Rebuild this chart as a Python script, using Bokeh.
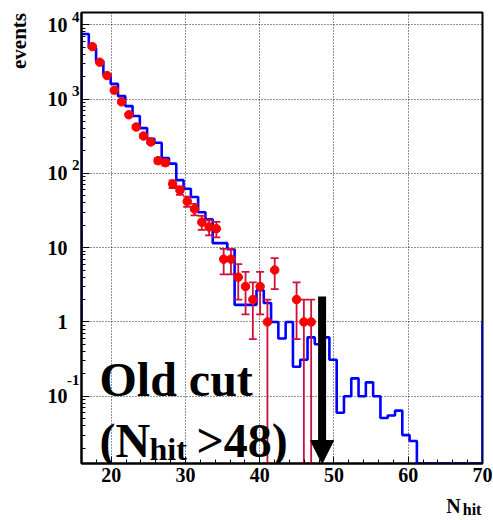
import numpy as np
from bokeh.plotting import figure
from bokeh.models import (Range1d, Label, Arrow, NormalHead, FixedTicker,
                          ColumnDataSource, LogAxis, LinearAxis)
from bokeh.embed import file_html
from bokeh.resources import INLINE

# ---------------- data ----------------
x_lo, x_hi, n_bins = 16.0, 70.0, 55          # histogram binning
y_lo, y_hi = 0.01245, 14600.0                 # axis ranges (log)
hist_base = 1.0                               # ROOT draws the outline ends at log-zero (=1)

# simulated (blue histogram), one value per bin
mc_counts = [7500, 4870, 3230, 2130, 1600, 1094, 803, 590, 406, 292,
             258, 161, 135, 81, 62, 48, 30, 24, 11.5, 11.5,
             9.5, 1.7, 1.7, 1.7, 2.67, 1.8, 1.0, 0.6, 1.0, 0.25,
             0.31, 0.62, 0.5, 0.62, 0.31, 0.06, 0.1, 0.174, 0.1, 0.154,
             0.1, 0.051, 0.055, 0.064, 0.030, 0.025, 0, 0, 0, 0,
             0, 0, 0, 0, 0]

# measured (red points): bin index and counts
data_bins = [1, 2, 3, 4, 5, 6, 7, 8, 9, 10, 11, 12, 13, 14, 15, 16, 17, 18,
             19, 20, 21, 22, 23, 24, 25, 26, 29, 30, 31]
data_counts = [5070, 3130, 2070, 1316, 916, 614, 420, 318, 264, 148, 139, 72,
               59, 42, 33, 22, 19, 18, 7, 7, 4, 3, 2, 3, 1, 5, 2, 1, 1]

x_ticks = [20, 30, 40, 50, 60, 70]
x_minor = list(range(16, 71, 2))
y_ticks = [0.1, 1, 10, 100, 1000, 10000]
y_base_labels = ["10", "1", "10", "10", "10", "10"]
y_exp_labels = ["-1", "", "", "2", "3", "4"]
y_exp_raise_px = [16, 0, 0, 8, 8, 8]          # exponent raised above its tick

x_title, x_title_sub = "N", "hit"
x_title_at, x_title_sub_at = 66.1, 68.6       # label centres along x
y_title = "events"
y_title_px_below_top = 28.5                   # centre of the rotated title

cut_x = 48.4          # arrow position
arrow_top = 2.2

# ---------------- derived ----------------
width = (x_hi - x_lo) / n_bins
edges = x_lo + width * np.arange(n_bins + 1)
mc = np.array(mc_counts, dtype=float)
mc_draw = np.where(mc > 0, mc, y_lo)
xs = [x_lo]
ys = [hist_base]
for j in range(n_bins):
    xs += [edges[j], edges[j + 1]]
    ys += [mc_draw[j], mc_draw[j]]
xs += [x_hi]
ys += [hist_base]

dc = np.array(data_counts, dtype=float)
dx = x_lo + width * (np.array(data_bins) + 0.5)
err = np.sqrt(dc)
lo = np.maximum(dc - err, y_lo)
hi = dc + err
src = ColumnDataSource(dict(x=dx, y=dc, lo=lo, hi=hi))

FONT = "Liberation Serif"
FRAME_H = 451
decade_px = FRAME_H / np.log10(y_hi / y_lo)

p = figure(width=493, height=520, y_axis_type="log",
           x_range=Range1d(x_lo, x_hi), y_range=Range1d(y_lo, y_hi),
           output_backend="svg", toolbar_location=None,
           min_border_left=81, min_border_right=11, min_border_top=12,
           min_border_bottom=57)
p.background_fill_color = "white"
p.border_fill_color = "white"
p.outline_line_color = "black"
p.outline_line_width = 2

# grids
for g in (p.xgrid, p.ygrid):
    g.grid_line_color = "black"
    g.grid_line_dash = "1 2"
    g.grid_line_width = 1
    g.grid_line_alpha = 0.85

# main axes (ticks)
xa = p.xaxis[0]
ya = p.yaxis[0]
xa.ticker = FixedTicker(ticks=x_ticks, minor_ticks=x_minor)
y_minor = [m * 10.0 ** k for k in range(-2, 5) for m in range(2, 10)]
ya.ticker = FixedTicker(ticks=y_ticks, minor_ticks=y_minor)
for ax in (xa, ya):
    ax.axis_line_color = "black"
    ax.axis_line_width = 2
    ax.major_tick_out = 0
    ax.minor_tick_out = 0
    ax.major_tick_line_color = "black"
    ax.minor_tick_line_color = "black"
    ax.major_label_text_font = FONT
    ax.major_label_text_font_style = "bold"
    ax.major_label_text_color = "black"
xa.major_tick_in = 7
xa.minor_tick_in = 4
ya.major_tick_in = 8
ya.minor_tick_in = 4
xa.major_label_text_font_size = "20px"
xa.major_label_standoff = 4
ya.major_label_overrides = {t: "" for t in y_ticks}
ya.major_label_standoff = 0


def label_axis(cls, ticks, labels, size, standoff, orientation="horizontal"):
    ax = cls(ticker=FixedTicker(ticks=list(ticks), minor_ticks=[]))
    ax.major_label_overrides = dict(zip(ticks, labels))
    ax.axis_line_color = None
    ax.major_tick_line_color = None
    ax.minor_tick_line_color = None
    ax.major_tick_in = 0
    ax.major_tick_out = 0
    ax.minor_tick_in = 0
    ax.minor_tick_out = 0
    ax.major_label_standoff = standoff
    ax.major_label_orientation = orientation
    ax.major_label_text_font = FONT
    ax.major_label_text_font_style = "bold"
    ax.major_label_text_font_size = size
    ax.major_label_text_color = "black"
    return ax


# y tick exponents (raised), then bases, then the rotated title
exp_ticks = [t * 10 ** (r / decade_px) for t, e, r in zip(y_ticks, y_exp_labels, y_exp_raise_px) if e]
exp_texts = [e for e in y_exp_labels if e]
p.add_layout(label_axis(LogAxis, exp_ticks, exp_texts, "15px", 2), "left")
p.add_layout(label_axis(LogAxis, y_ticks, y_base_labels, "20px", -3), "left")
y_title_at = y_hi / 10 ** (y_title_px_below_top / decade_px)
p.add_layout(label_axis(LogAxis, [y_title_at], [y_title], "21px", 14, "vertical"), "left")

# x title: subscript row first, then "N" pulled back up beside it, so the
# last label ends inside the bottom margin and the frame keeps its place
p.add_layout(label_axis(LinearAxis, [x_title_sub_at], [x_title_sub], "16px", 16), "below")
p.add_layout(label_axis(LinearAxis, [x_title_at], [x_title], "20px", -26), "below")

# blue histogram
p.line(xs, ys, line_color="#0000ff", line_width=2.6)

# red data with error bars
err_col = "#d0103c"
p.segment(x0="x", y0="lo", x1="x", y1="hi", source=src, line_color=err_col, line_width=1.8)
p.scatter(x="x", y="hi", source=src, marker="dash", size=8, line_color=err_col, line_width=1.8)
p.scatter(x="x", y="lo", source=src, marker="dash", size=8, line_color=err_col, line_width=1.8)
p.scatter(x="x", y="y", source=src, marker="circle", size=8.5, fill_color="#ff0000",
          line_color="#ff0000")

# arrow marking the old cut
p.add_layout(Arrow(x_start=cut_x, y_start=arrow_top, x_end=cut_x, y_end=y_lo,
                   line_color="black", line_width=8,
                   end=NormalHead(size=23, fill_color="black", line_color="black", line_width=1)))

# big annotation
big = dict(text_font=FONT, text_font_style="bold", text_align="left",
           text_baseline="alphabetic", text_color="black")
p.add_layout(Label(x=x_lo, y=y_lo, text="Old cut", x_offset=18, y_offset=84,
                   text_font_size="48px", **big))
p.add_layout(Label(x=x_lo, y=y_lo, text="(N", x_offset=18, y_offset=23,
                   text_font_size="48px", **big))
p.add_layout(Label(x=x_lo, y=y_lo, text="hit", x_offset=68, y_offset=15,
                   text_font_size="32px", **big))
p.add_layout(Label(x=x_lo, y=y_lo, text=">48)", x_offset=115, y_offset=23,
                   text_font_size="48px", **big))

open("out.html", "w").write(file_html(p, INLINE))
